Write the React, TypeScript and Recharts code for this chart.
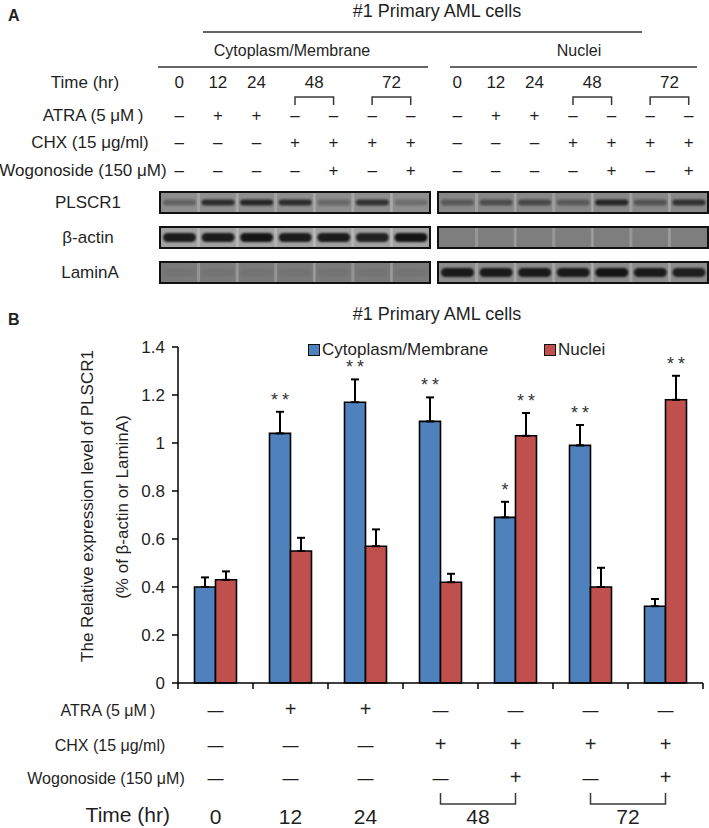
import React from 'react';
import { BarChart, Bar, XAxis, YAxis, ErrorBar, LabelList, Legend } from 'recharts';

const FONT = '"Liberation Sans", Arial, Helvetica, sans-serif';
const INK = '#1f1f1f';
const BLUE = '#4f81bd';
const RED = '#c0504d';

// treatment of each lane (panel A) / bar group (panel B)
const times = [0, 12, 24, 48, 48, 72, 72];
const atra = ['-', '+', '+', '-', '-', '-', '-'];
const chx = ['-', '-', '-', '+', '+', '+', '+'];
const wogonoside = ['-', '-', '-', '-', '+', '-', '+'];

// panel B: relative PLSCR1 level and upper error
const cytoMean = [0.4, 1.04, 1.17, 1.09, 0.69, 0.99, 0.32];
const cytoSem = [0.04, 0.09, 0.095, 0.1, 0.065, 0.085, 0.03];
const nucleiMean = [0.43, 0.55, 0.57, 0.42, 1.03, 0.4, 1.18];
const nucleiSem = [0.035, 0.055, 0.07, 0.035, 0.095, 0.08, 0.1];
const cytoStars = ['', '**', '**', '**', '*', '**', ''];
const nucleiStars = ['', '', '', '', '**', '', '**'];
const yTicks = [0, 0.2, 0.4, 0.6, 0.8, 1, 1.2, 1.4];

// panel A: band strength per lane (0 = none, 1 = black)
const cytoPlscr1 = [0.35, 0.8, 0.85, 0.8, 0.3, 0.75, 0.25];
const cytoActin = [0.95, 0.95, 1, 0.95, 0.95, 0.9, 1];
const cytoLamin = [0.05, 0.05, 0.05, 0.05, 0.05, 0.05, 0.05];
const nucPlscr1 = [0.4, 0.5, 0.55, 0.4, 0.85, 0.45, 0.75];
const nucActin = [0, 0, 0, 0, 0, 0, 0];
const nucLamin = [0.95, 0.95, 0.95, 0.95, 1, 0.95, 0.9];

const groupRows = times.map((t, i) => ({
  key: i,
  cyto: cytoMean[i],
  cytoErr: [0, cytoSem[i]],
  nuclei: nucleiMean[i],
  nucleiErr: [0, nucleiSem[i]],
}));
const laneRows = times.map((t, i) => ({ key: i, time: t }));

// stacked axes are laid out in id order, so ids are prefixed
const tableAxis = {
  dataKey: 'key',
  axisLine: false,
  tickLine: false,
  tickSize: 0,
  tickMargin: 0,
  interval: 0 as const,
};

function symbolTick(marks: string[], dy: number, panel: 'A' | 'B') {
  return (props: any) => {
    const { x, y, payload } = props;
    const plus = marks[payload.value] === '+';
    const text = plus ? '+' : panel === 'A' ? '–' : '—';
    const size = panel === 'A' ? 17 : plus ? 20 : 16;
    return (
      <text x={x} y={y + dy} textAnchor="middle" fontFamily={FONT} fontSize={size} fill={INK}>
        {text}
      </text>
    );
  };
}

function timeTick(panel: 'A' | 'B') {
  return (props: any) => {
    const { x, y, payload } = props;
    const i = payload.value;
    const half = payload.offset;
    if (i > 0 && times[i] === times[i - 1]) return <g />;
    const paired = times[i + 1] === times[i];
    const cx = paired ? x + half : x;
    const isA = panel === 'A';
    const d = isA
      ? `M${x},${y + 4}V${y - 4}H${x + 2 * half}V${y + 4}`
      : `M${x},${y - 2}V${y + 9}H${x + 2 * half}V${y - 2}`;
    return (
      <g>
        {paired && <path d={d} fill="none" stroke="#3a3a3a" strokeWidth={1.5} />}
        <text x={cx} y={isA ? y - 13 : y + 29} textAnchor="middle" fontFamily={FONT}
          fontSize={isA ? 17 : 21} fill={INK}>
          {times[i]}
        </text>
      </g>
    );
  };
}

function BoundaryTick(props: any) {
  const { x, y, payload } = props;
  const half = payload.offset;
  return (
    <g>
      <line x1={x - half} x2={x - half} y1={y} y2={y + 6} stroke="#000" strokeWidth={1.5} />
      {payload.value === times.length - 1 && (
        <line x1={x + half} x2={x + half} y1={y} y2={y + 6} stroke="#000" strokeWidth={1.5} />
      )}
    </g>
  );
}

function starLabel(stars: string[], means: number[], sems: number[]) {
  return (props: any) => {
    const vb = props.viewBox && props.viewBox.width != null ? props.viewBox : props;
    const { x, y, width, height } = vb;
    const i = props.index;
    const s = stars[i];
    if (!s) return null;
    const top = y - (sems[i] * height) / means[i];
    return (
      <text x={x + width / 2 + 2} y={top - 6} textAnchor="middle" fontFamily={FONT} fontSize={18}
        letterSpacing={4} fill="#333">
        {s}
      </text>
    );
  };
}

function laneShape(bands: number[], bg: string, bandH: number) {
  return (props: any) => {
    const { x, y, width, height, index } = props;
    const cy = y + height / 2;
    return (
      <g>
        <rect x={x} y={y} width={width} height={height} fill={bg} />
        {index > 0 && <rect x={x - 1.5} y={y} width={3} height={height} fill="#fff" opacity={0.2} />}
        <rect x={x + 3} y={cy - bandH / 2} width={width - 6} height={bandH} rx={bandH / 2}
          fill="#141414" opacity={bands[index]} style={{ filter: 'blur(1px)' }} />
      </g>
    );
  };
}

interface StripProps {
  left: number;
  top: number;
  bands: number[];
  bg: string;
  bandH: number;
  header?: boolean;
}

function Strip({ left, top, bands, bg, bandH, header }: StripProps) {
  return (
    <div style={{ position: 'absolute', left, top: header ? top - 132 : top }}>
      <BarChart width={270} height={header ? 153 : 21} data={laneRows}
        margin={{ top: 0, right: 0, bottom: 0, left: 0 }} barCategoryGap={0} barGap={0}>
        <XAxis dataKey="key" hide />
        <YAxis hide domain={[0, 1]} />
        {header && <XAxis xAxisId="a1_wogo" orientation="top" height={36} {...tableAxis} tick={symbolTick(wogonoside, -16, 'A')} />}
        {header && <XAxis xAxisId="a2_chx" orientation="top" height={28} {...tableAxis} tick={symbolTick(chx, -8, 'A')} />}
        {header && <XAxis xAxisId="a3_atra" orientation="top" height={27} {...tableAxis} tick={symbolTick(atra, -7, 'A')} />}
        {header && <XAxis xAxisId="a4_time" orientation="top" height={41} {...tableAxis} tick={timeTick('A')} />}
        <Bar dataKey={() => 1} shape={laneShape(bands, bg, bandH)} isAnimationActive={false} />
      </BarChart>
    </div>
  );
}

function LegendBox({ payload }: any) {
  return (
    <div style={{ position: 'relative', height: 22, fontFamily: FONT, fontSize: 17, color: INK }}>
      {(payload || []).map((p: any, i: number) => (
        <div key={p.value} style={{ position: 'absolute', left: i === 0 ? 0 : 236, top: 0, height: 22,
          display: 'flex', alignItems: 'center', whiteSpace: 'nowrap' }}>
          <span style={{ display: 'inline-block', width: 10, height: 10, background: p.color,
            border: '1.5px solid #111', marginRight: 2 }} />
          {p.value}
        </div>
      ))}
    </div>
  );
}

function Overlay() {
  const txt = (x: number, y: number, s: string, size = 17, anchor = 'middle', weight = 'normal') => (
    <text x={x} y={y} textAnchor={anchor as any} fontFamily={FONT} fontSize={size} fontWeight={weight} fill={INK}>
      {s}
    </text>
  );
  const frame = (x: number, y: number) => (
    <rect x={x} y={y} width={270} height={21} fill="none" stroke="#111" strokeWidth={2} />
  );
  return (
    <svg width={709} height={828} style={{ position: 'absolute', left: 0, top: 0, pointerEvents: 'none' }}>
      {/* panel A */}
      {txt(8, 21, 'A', 16, 'start', 'bold')}
      {txt(437, 17, '#1 Primary AML cells', 18)}
      <line x1={203} x2={642} y1={32} y2={32} stroke="#333" strokeWidth={1.5} />
      {txt(292, 56, 'Cytoplasm/Membrane', 16)}
      {txt(579, 56, 'Nuclei', 16)}
      <line x1={158} x2={428} y1={67} y2={67} stroke="#333" strokeWidth={1.5} />
      <line x1={450} x2={697} y1={67} y2={67} stroke="#333" strokeWidth={1.5} />
      {txt(85, 88, 'Time (hr)')}
      {txt(93, 121, 'ATRA (5 μM\u2009)')}
      {txt(90, 148, 'CHX (15 μg/ml)')}
      {txt(83, 176, 'Wogonoside (150 μM)')}
      {txt(88, 208, 'PLSCR1')}
      {txt(88, 243, 'β-actin')}
      {txt(90, 278, 'LaminA')}
      {frame(160, 192)}
      {frame(160, 227)}
      {frame(160, 262)}
      {frame(438, 192)}
      {frame(438, 227)}
      {frame(438, 262)}

      {/* panel B */}
      {txt(8, 325, 'B', 16, 'start', 'bold')}
      {txt(437, 320, '#1 Primary AML cells', 18)}
      <text transform="translate(87,506) rotate(-90)" textAnchor="middle" dominantBaseline="central"
        fontFamily={FONT} fontSize={17} fill={INK}>
        The Relative expression level of PLSCR1
      </text>
      <text transform="translate(122,507) rotate(-90)" textAnchor="middle" dominantBaseline="central"
        fontFamily={FONT} fontSize={17} fill={INK}>
        (% of β-actin or LaminA)
      </text>
      {txt(108, 716, 'ATRA (5 μM\u2009)', 16)}
      {txt(110, 751, 'CHX (15 μg/ml)', 16)}
      {txt(106, 784, 'Wogonoside (150 μM)', 16)}
      {txt(170, 822, 'Time (hr)', 21, 'end')}
    </svg>
  );
}

export default function App() {
  return (
    <div style={{ position: 'absolute', left: 0, top: 0, width: 709, height: 828, background: '#fff', overflow: 'hidden' }}>
      <Strip left={160} top={192} bands={cytoPlscr1} bg="#8e8e8e" bandH={6} header />
      <Strip left={160} top={227} bands={cytoActin} bg="#a2a2a2" bandH={9} />
      <Strip left={160} top={262} bands={cytoLamin} bg="#7a7a7a" bandH={8} />
      <Strip left={438} top={192} bands={nucPlscr1} bg="#888888" bandH={6} header />
      <Strip left={438} top={227} bands={nucActin} bg="#7e7e7e" bandH={8} />
      <Strip left={438} top={262} bands={nucLamin} bg="#8c8c8c" bandH={9} />

      <div style={{ position: 'absolute', left: 0, top: 290 }}>
        <BarChart width={709} height={538} data={groupRows}
          margin={{ top: 57, right: 6, left: 118, bottom: 0 }} barCategoryGap="22%" barGap={0}>
          <YAxis domain={[0, 1.4]} ticks={yTicks} interval={0} width={60} tickSize={6} tickMargin={7}
            tick={{ fontSize: 17, fill: INK, fontFamily: FONT }}
            axisLine={{ stroke: '#000', strokeWidth: 1.5 }} tickLine={{ stroke: '#000', strokeWidth: 1.5 }} />
          <XAxis dataKey="key" height={10} interval={0} tickSize={0} tickMargin={0} tickLine={false}
            axisLine={{ stroke: '#000', strokeWidth: 1.5 }} tick={BoundaryTick} />
          <XAxis xAxisId="b1_atra" height={34} {...tableAxis} tick={symbolTick(atra, 23, 'B')} />
          <XAxis xAxisId="b2_chx" height={34} {...tableAxis} tick={symbolTick(chx, 24, 'B')} />
          <XAxis xAxisId="b3_wogo" height={34} {...tableAxis} tick={symbolTick(wogonoside, 23, 'B')} />
          <XAxis xAxisId="b4_time" height={33} {...tableAxis} tick={timeTick('B')} />
          <Legend layout="horizontal" verticalAlign="middle" align="center" content={<LegendBox />}
            wrapperStyle={{ top: 49, left: 308, width: 330, height: 22 }} />
          <Bar dataKey="cyto" name="Cytoplasm/Membrane" fill={BLUE} stroke="#000" strokeWidth={1.6}
            isAnimationActive={false}>
            <ErrorBar dataKey="cytoErr" width={4} strokeWidth={2} stroke="#000" direction="y" />
            <LabelList dataKey="cyto" content={starLabel(cytoStars, cytoMean, cytoSem)} />
          </Bar>
          <Bar dataKey="nuclei" name="Nuclei" fill={RED} stroke="#000" strokeWidth={1.6}
            isAnimationActive={false}>
            <ErrorBar dataKey="nucleiErr" width={4} strokeWidth={2} stroke="#000" direction="y" />
            <LabelList dataKey="nuclei" content={starLabel(nucleiStars, nucleiMean, nucleiSem)} />
          </Bar>
        </BarChart>
      </div>

      <Overlay />
    </div>
  );
}
